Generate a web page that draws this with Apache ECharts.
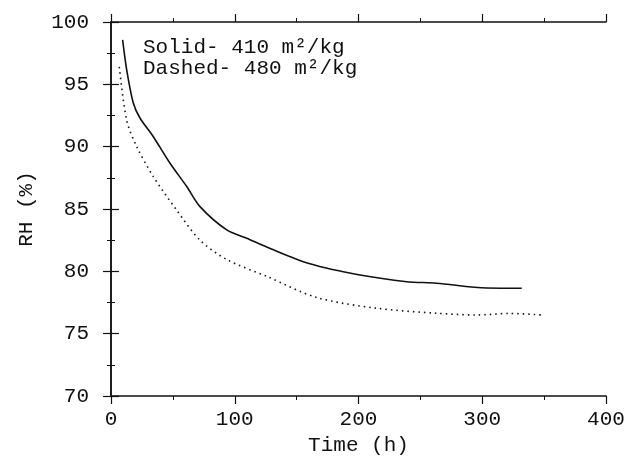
<!DOCTYPE html>
<html><head><meta charset="utf-8">
<script src="https://cdn.jsdelivr.net/npm/echarts@6/dist/echarts.min.js"></script>
<style>html,body{margin:0;padding:0;background:#fff}#c{width:624px;height:458px}</style>
</head><body><div id="c"></div>
<script>
// Solid curve (410 m²/kg): time (h), RH (%)
const solidTime = [9.4, 12.7, 18, 23.4, 34.2, 47.7, 61.2, 71.9, 93.5, 109.7, 125.8, 160.8, 201.2, 239, 263, 303.6, 331.9];
const solidRH   = [98.56, 96.15, 93.5, 92.3, 90.8, 88.67, 86.8, 85.19, 83.32, 82.65, 81.95, 80.6, 79.7, 79.17, 79.05, 78.66, 78.64];
// Dashed curve (480 m²/kg)
const dashedTime = [6.7, 12.7, 20.8, 34.2, 53.1, 71.9, 93.5, 125.8, 166.2, 214.7, 263, 295.5, 322, 349];
const dashedRH   = [96.4, 92.1, 90.0, 87.6, 84.9, 82.5, 80.95, 79.6, 77.9, 77.04, 76.64, 76.5, 76.62, 76.5];
const xTicks = [0, 100, 200, 300, 400];
const yTicks = [70, 75, 80, 85, 90, 95, 100];
const legendLines = ['Solid- 410 m²/kg', 'Dashed- 480 m²/kg'];

const FONT = 'Liberation Mono';
const ink = '#111';
const pair = (xs, ys) => xs.map((x, i) => [x, ys[i]]);
const axisCommon = {
  axisLine: {show: true, lineStyle: {color: ink, width: 1.5}},
  axisTick: {show: true, inside: false, length: 8, lineStyle: {color: ink, width: 1.2}},
  minorTick: {show: true, splitNumber: 2, length: 4, lineStyle: {color: ink, width: 1}},
  splitLine: {show: false}
};
const chart = echarts.init(document.getElementById('c'));
chart.setOption({
  animation: false,
  backgroundColor: '#fff',
  grid: {left: 111, right: 18, top: 22, bottom: 62, containLabel: false, outerBoundsMode: 'none'},
  title: {
    text: legendLines.join('\n'),
    left: 138, top: 32,
    textStyle: {fontFamily: FONT, fontSize: 21, fontWeight: 'normal', color: ink, lineHeight: 21}
  },
  xAxis: [
    Object.assign({type: 'value', min: xTicks[0], max: xTicks[xTicks.length - 1], interval: 100, position: 'bottom',
      name: 'Time (h)', nameLocation: 'middle', nameGap: 35,
      nameTextStyle: {fontFamily: FONT, fontSize: 21, color: ink},
      axisLabel: {fontFamily: FONT, fontSize: 21, color: ink, margin: 13}}, axisCommon),
    Object.assign({type: 'value', min: xTicks[0], max: xTicks[xTicks.length - 1], interval: 100, position: 'top',
      axisLabel: {show: false}}, axisCommon)
  ],
  yAxis: [
    Object.assign({type: 'value', min: yTicks[0], max: yTicks[yTicks.length - 1], interval: 5, position: 'left',
      name: 'RH (%)', nameLocation: 'middle', nameGap: 74, nameRotate: 90,
      nameTextStyle: {fontFamily: FONT, fontSize: 21, color: ink},
      axisLabel: {fontFamily: FONT, fontSize: 21, color: ink, margin: 22}}, axisCommon),
    Object.assign({type: 'value', min: yTicks[0], max: yTicks[yTicks.length - 1], interval: 5, position: 'right',
      axisLabel: {show: false}}, axisCommon)
  ],
  series: [
    {type: 'line', name: 'Solid', data: pair(solidTime, solidRH), showSymbol: false, smooth: 0.3,
      lineStyle: {color: ink, width: 1.6, type: 'solid'}},
    {type: 'line', name: 'Dashed', data: pair(dashedTime, dashedRH), showSymbol: false, smooth: 0.3,
      lineStyle: {color: ink, width: 1.6, type: [1.5, 4]}}
  ]
});
</script></body></html>
